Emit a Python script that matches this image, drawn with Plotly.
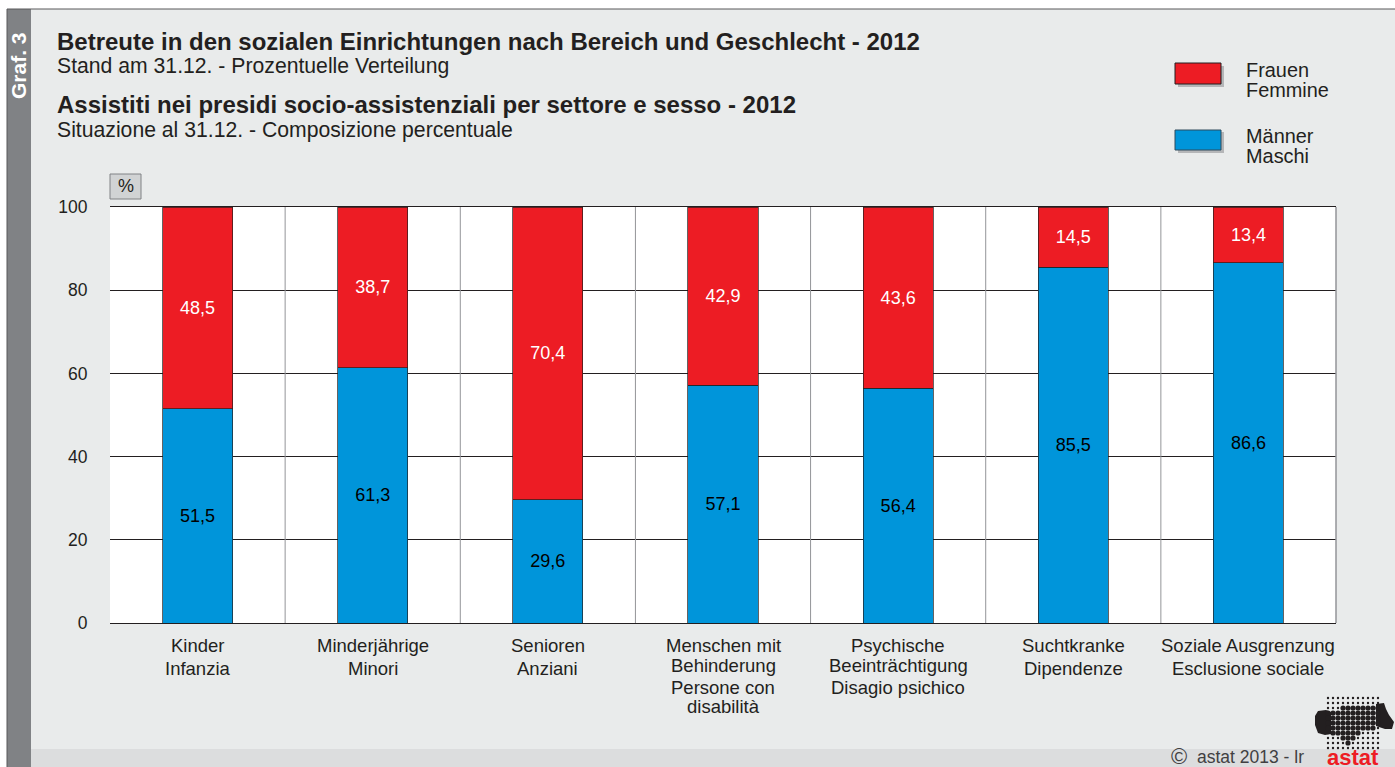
import plotly.graph_objects as go

W, H = 1395, 767
categories = ["Kinder<br>Infanzia", "Minderjährige<br>Minori", "Senioren<br>Anziani",
              "Menschen mit<br>Behinderung<br>Persone con<br>disabilità",
              "Psychische<br>Beeinträchtigung<br>Disagio psichico",
              "Suchtkranke<br>Dipendenze", "Soziale Ausgrenzung<br>Esclusione sociale"]
maenner = [51.5, 61.3, 29.6, 57.1, 56.4, 85.5, 86.6]
frauen = [48.5, 38.7, 70.4, 42.9, 43.6, 14.5, 13.4]
y_ticks = [0, 20, 40, 60, 80, 100]

FONT = "Liberation Sans, Arial, sans-serif"
RED, BLUE = "#ED1C24", "#0095DA"
INK = "#231F20"

def px(x): return x / W
def py(y): return 1 - y / H

def rect(x0, y0, x1, y1, fill, line=None, lw=0, layer="below"):
    return dict(type="rect", xref="paper", yref="paper", x0=px(x0), x1=px(x1), y0=py(y0), y1=py(y1),
                fillcolor=fill, line=dict(color=line or fill, width=lw), layer=layer)

def seg(x0, y0, x1, y1, color, lw=1, layer="below"):
    return dict(type="line", xref="paper", yref="paper", x0=px(x0), x1=px(x1), y0=py(y0), y1=py(y1),
                line=dict(color=color, width=lw), layer=layer)

def poly(points, fill):
    d = "M " + " L ".join(f"{px(x):.5f},{py(y):.5f}" for x, y in points) + " Z"
    return dict(type="path", xref="paper", yref="paper", path=d, fillcolor=fill, line=dict(width=0), layer="below")

def dot(x, y, r, fill):
    return dict(type="circle", xref="paper", yref="paper", x0=px(x - r), x1=px(x + r), y0=py(y + r), y1=py(y - r),
                fillcolor=fill, line=dict(width=0), layer="below")

def txt(x, y, s, size, bold=False, color=INK, anchor="left", angle=0):
    return dict(xref="paper", yref="paper", x=px(x), y=py(y), text=f"<b>{s}</b>" if bold else s,
                showarrow=False, xanchor=anchor, yanchor="middle", textangle=angle, borderpad=0, borderwidth=0,
                font=dict(family=FONT, size=size, color=color))

fig = go.Figure()
xs = list(range(len(categories)))
fig.add_bar(x=xs, y=maenner, marker=dict(color=BLUE, line=dict(color=INK, width=0.7)),
            textfont=dict(color="black", size=18, family=FONT), name="Männer")
fig.add_bar(x=xs, y=frauen, marker=dict(color=RED, line=dict(color=INK, width=0.7)),
            textfont=dict(color="white", size=18, family=FONT), name="Frauen")
fig.update_traces(texttemplate="%{y:.1f}", textposition="inside", insidetextanchor="middle",
                  textangle=0, cliponaxis=False)

shapes = [
    rect(7, 9, W, 749, "#E9EBEB"),
    rect(31, 749, W, H, "#DCDDDE"),
    rect(7, 9, 31, H, "#808285"),
    seg(7, 9, W, 9, "#58595B"),
    seg(7, 9, 7, H, "#58595B"),
    rect(110, 207, 1336, 623, "#FFFFFF"),
    rect(110, 174, 141, 199, "#D1D3D4", "#808285", 1),
    rect(1178, 66, 1224, 87, "#B5B6B8"),
    rect(1175, 63, 1221, 84, RED, INK, 1),
    rect(1178, 132, 1224, 153, "#B5B6B8"),
    rect(1175, 130, 1221, 150, BLUE, "#2F4A5C", 1),
    seg(1336, 207, 1336, 623, "#939598", 1.5, "above"),
]
for i in range(1, len(categories)):
    shapes.append(dict(type="line", xref="x", yref="y", x0=i - 0.5, x1=i - 0.5, y0=0, y1=100,
                       line=dict(color="#939598", width=1), layer="between"))

# astat logo: two solid lobes and a dot raster
shapes.append(poly([(1315, 716), (1318, 711), (1326, 710), (1331, 712), (1331, 734), (1325, 735),
                    (1318, 733), (1315, 725)], "#231F20"))
shapes.append(poly([(1376, 704), (1384, 703), (1386, 709), (1389, 715), (1394, 722), (1392, 729),
                    (1385, 729), (1376, 726)], "#231F20"))
big_rows = {708: (1343, 1378), 713: (1328, 1378), 718: (1328, 1378), 723: (1328, 1378),
            728: (1328, 1373), 733: (1333, 1358), 738: (1343, 1353), 743: (1348, 1348)}
for gy in range(698, 749, 5):
    for gx in range(1328, 1379, 5):
        lo, hi = big_rows.get(gy, (9999, 0))
        shapes.append(dot(gx, gy, 2.6 if lo <= gx <= hi else 1.2, "#231F20"))

annotations = [
    txt(57, 41, "Betreute in den sozialen Einrichtungen nach Bereich und Geschlecht - 2012", 24, True),
    txt(57, 66, "Stand am 31.12. - Prozentuelle Verteilung", 21.2),
    txt(57, 105, "Assistiti nei presidi socio-assistenziali per settore e sesso - 2012", 24, True),
    txt(57, 130, "Situazione al 31.12. - Composizione percentuale", 21.2),
    txt(19, 66, "Graf. 3", 21, True, "#FFFFFF", "center", -90),
    txt(126, 186, "%", 18, False, INK, "center"),
    txt(1246, 70, "Frauen", 19.9),
    txt(1246, 90, "Femmine", 19.9),
    txt(1246, 136, "Männer", 19.9),
    txt(1246, 156, "Maschi", 19.9),
    txt(1179, 756, "©", 22, False, "#414042", "center"),
    txt(1197, 757, "astat 2013 - lr", 17.5, False, "#414042"),
    txt(1353, 757, "astat", 22, True, RED, "center"),
]

# category labels, one annotation per line, placed on the x axis
line_rows = {2: [645, 668], 3: [645, 665, 687], 4: [645, 665, 687, 706]}
for i, label in enumerate(categories):
    parts = label.split("<br>")
    for part, row in zip(parts, line_rows[len(parts)]):
        annotations.append(dict(xref="x", yref="paper", x=i, y=py(row), text=part, showarrow=False,
                                xanchor="center", yanchor="middle", borderpad=0,
                                font=dict(family=FONT, size=18.5, color=INK)))

fig.update_layout(
    width=W, height=H, margin=dict(l=0, r=0, t=0, b=0, pad=0, autoexpand=False), autosize=False,
    paper_bgcolor="#FFFFFF", plot_bgcolor="#FFFFFF", barmode="stack", bargap=0.6,
    showlegend=False, separators=",.", shapes=shapes, annotations=annotations,
    font=dict(family=FONT, size=17.5, color=INK),
    xaxis=dict(domain=[px(110), px(1336)], range=[-0.5, 6.5], tickmode="array", tickvals=xs,
               showticklabels=False, showgrid=False, zeroline=False, ticks="",
               showline=True, linecolor=INK, linewidth=1, mirror=True),
    yaxis=dict(domain=[py(623), py(207)], range=[0, 100], tickmode="array", tickvals=y_ticks,
               showgrid=True, gridcolor=INK, gridwidth=0.7, zeroline=False, ticks="outside", ticklen=18,
               tickcolor="rgba(0,0,0,0)", showline=False),
)
post = "document.documentElement.style.overflow='hidden';document.body.style.margin='0';"
fig.write_html("out.html", post_script=post, config={"displayModeBar": False})
